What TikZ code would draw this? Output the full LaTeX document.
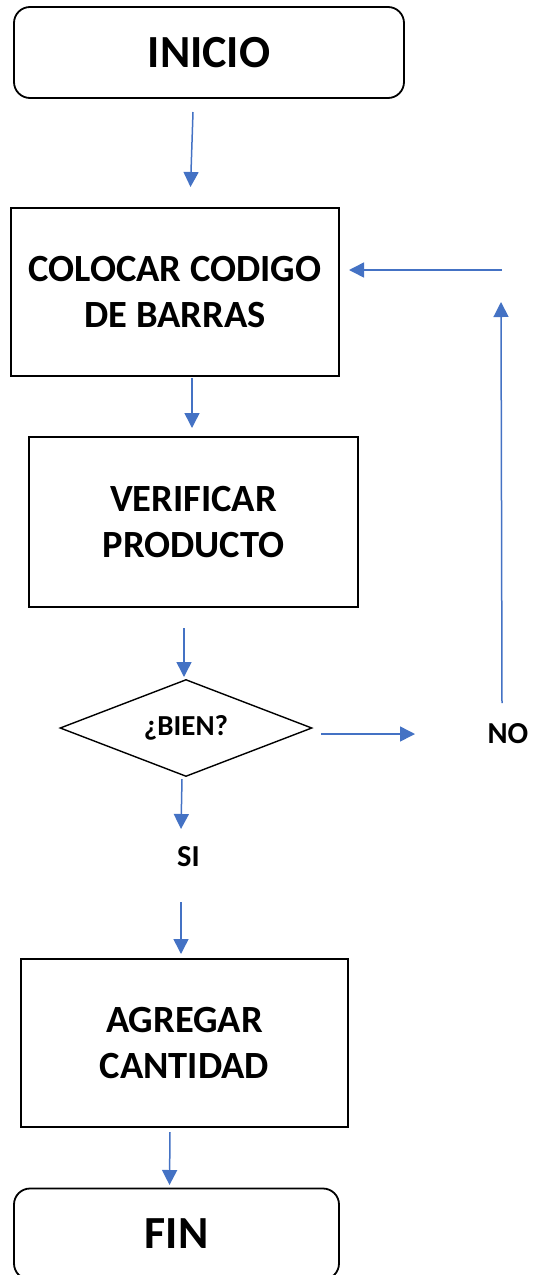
\documentclass[tikz,border=0pt]{standalone}
\usepackage{fontspec}
\setmainfont{Carlito}
\usetikzlibrary{shapes.geometric,arrows.meta}
\definecolor{arrowblue}{HTML}{4472C4}
\begin{document}
\begin{tikzpicture}[x=1pt,y=-1pt,
  termbox/.style={draw=black,line width=1.8pt,rounded corners=16pt,inner sep=0pt,
    font=\bfseries\fontsize{46}{55}\selectfont},
  procbox/.style={draw=black,line width=1.6pt,inner sep=0pt,align=center,
    font=\bfseries\fontsize{38.5}{46}\selectfont},
  decbox/.style={diamond,draw=black,line width=1.4pt,inner sep=0pt,aspect=2.6,
    font=\bfseries\fontsize{29}{34}\selectfont},
  lbl/.style={inner sep=0pt,font=\bfseries\fontsize{30.5}{36}\selectfont},
  flow/.style={draw=arrowblue,line width=1.5pt,-{Triangle[length=15pt,width=15pt]}}]
\useasboundingbox (0,0) rectangle (534,1275);

\node[termbox,minimum width=390pt,minimum height=91pt] (inicio) at (209,52.5) {INICIO};
\node[procbox,minimum width=328pt,minimum height=168pt] (colocar) at (175,292) {COLOCAR CODIGO\\DE BARRAS};
\node[procbox,minimum width=329pt,minimum height=170pt] (verificar) at (193.5,522) {VERIFICAR\\PRODUCTO};
\node[decbox,minimum width=252pt,minimum height=97pt] (bien) at (186,728) {¿BIEN?};
\node[lbl] (si) at (188.5,857) {SI};
\node[lbl] (no) at (508,734) {NO};
\node[procbox,minimum width=327pt,minimum height=168pt] (agregar) at (184.5,1043) {AGREGAR\\CANTIDAD};
\node[termbox,minimum width=325pt,minimum height=91pt] (fin) at (176.5,1234) {FIN};

\coordinate (a1s) at (193,112);   \coordinate (a1e) at (190.5,187);
\coordinate (a2s) at (192,378);   \coordinate (a2e) at (192,428);
\coordinate (a3s) at (184,628);   \coordinate (a3e) at (184,677);
\coordinate (a4s) at (182,779);   \coordinate (a4e) at (181,829);
\coordinate (a5s) at (181,902);   \coordinate (a5e) at (181,954);
\coordinate (a6s) at (170,1132);  \coordinate (a6e) at (169.5,1185);
\coordinate (a7s) at (321,734);   \coordinate (a7e) at (415,734);
\coordinate (a8s) at (502,703);   \coordinate (a8e) at (501,302);
\coordinate (a9s) at (502,270);   \coordinate (a9e) at (349,270);

\draw[flow] (a1s) -- (a1e);
\draw[flow] (a2s) -- (a2e);
\draw[flow] (a3s) -- (a3e);
\draw[flow] (a4s) -- (a4e);
\draw[flow] (a5s) -- (a5e);
\draw[flow] (a6s) -- (a6e);
\draw[flow] (a7s) -- (a7e);
\draw[flow] (a8s) -- (a8e);
\draw[flow] (a9s) -- (a9e);
\end{tikzpicture}
\end{document}
